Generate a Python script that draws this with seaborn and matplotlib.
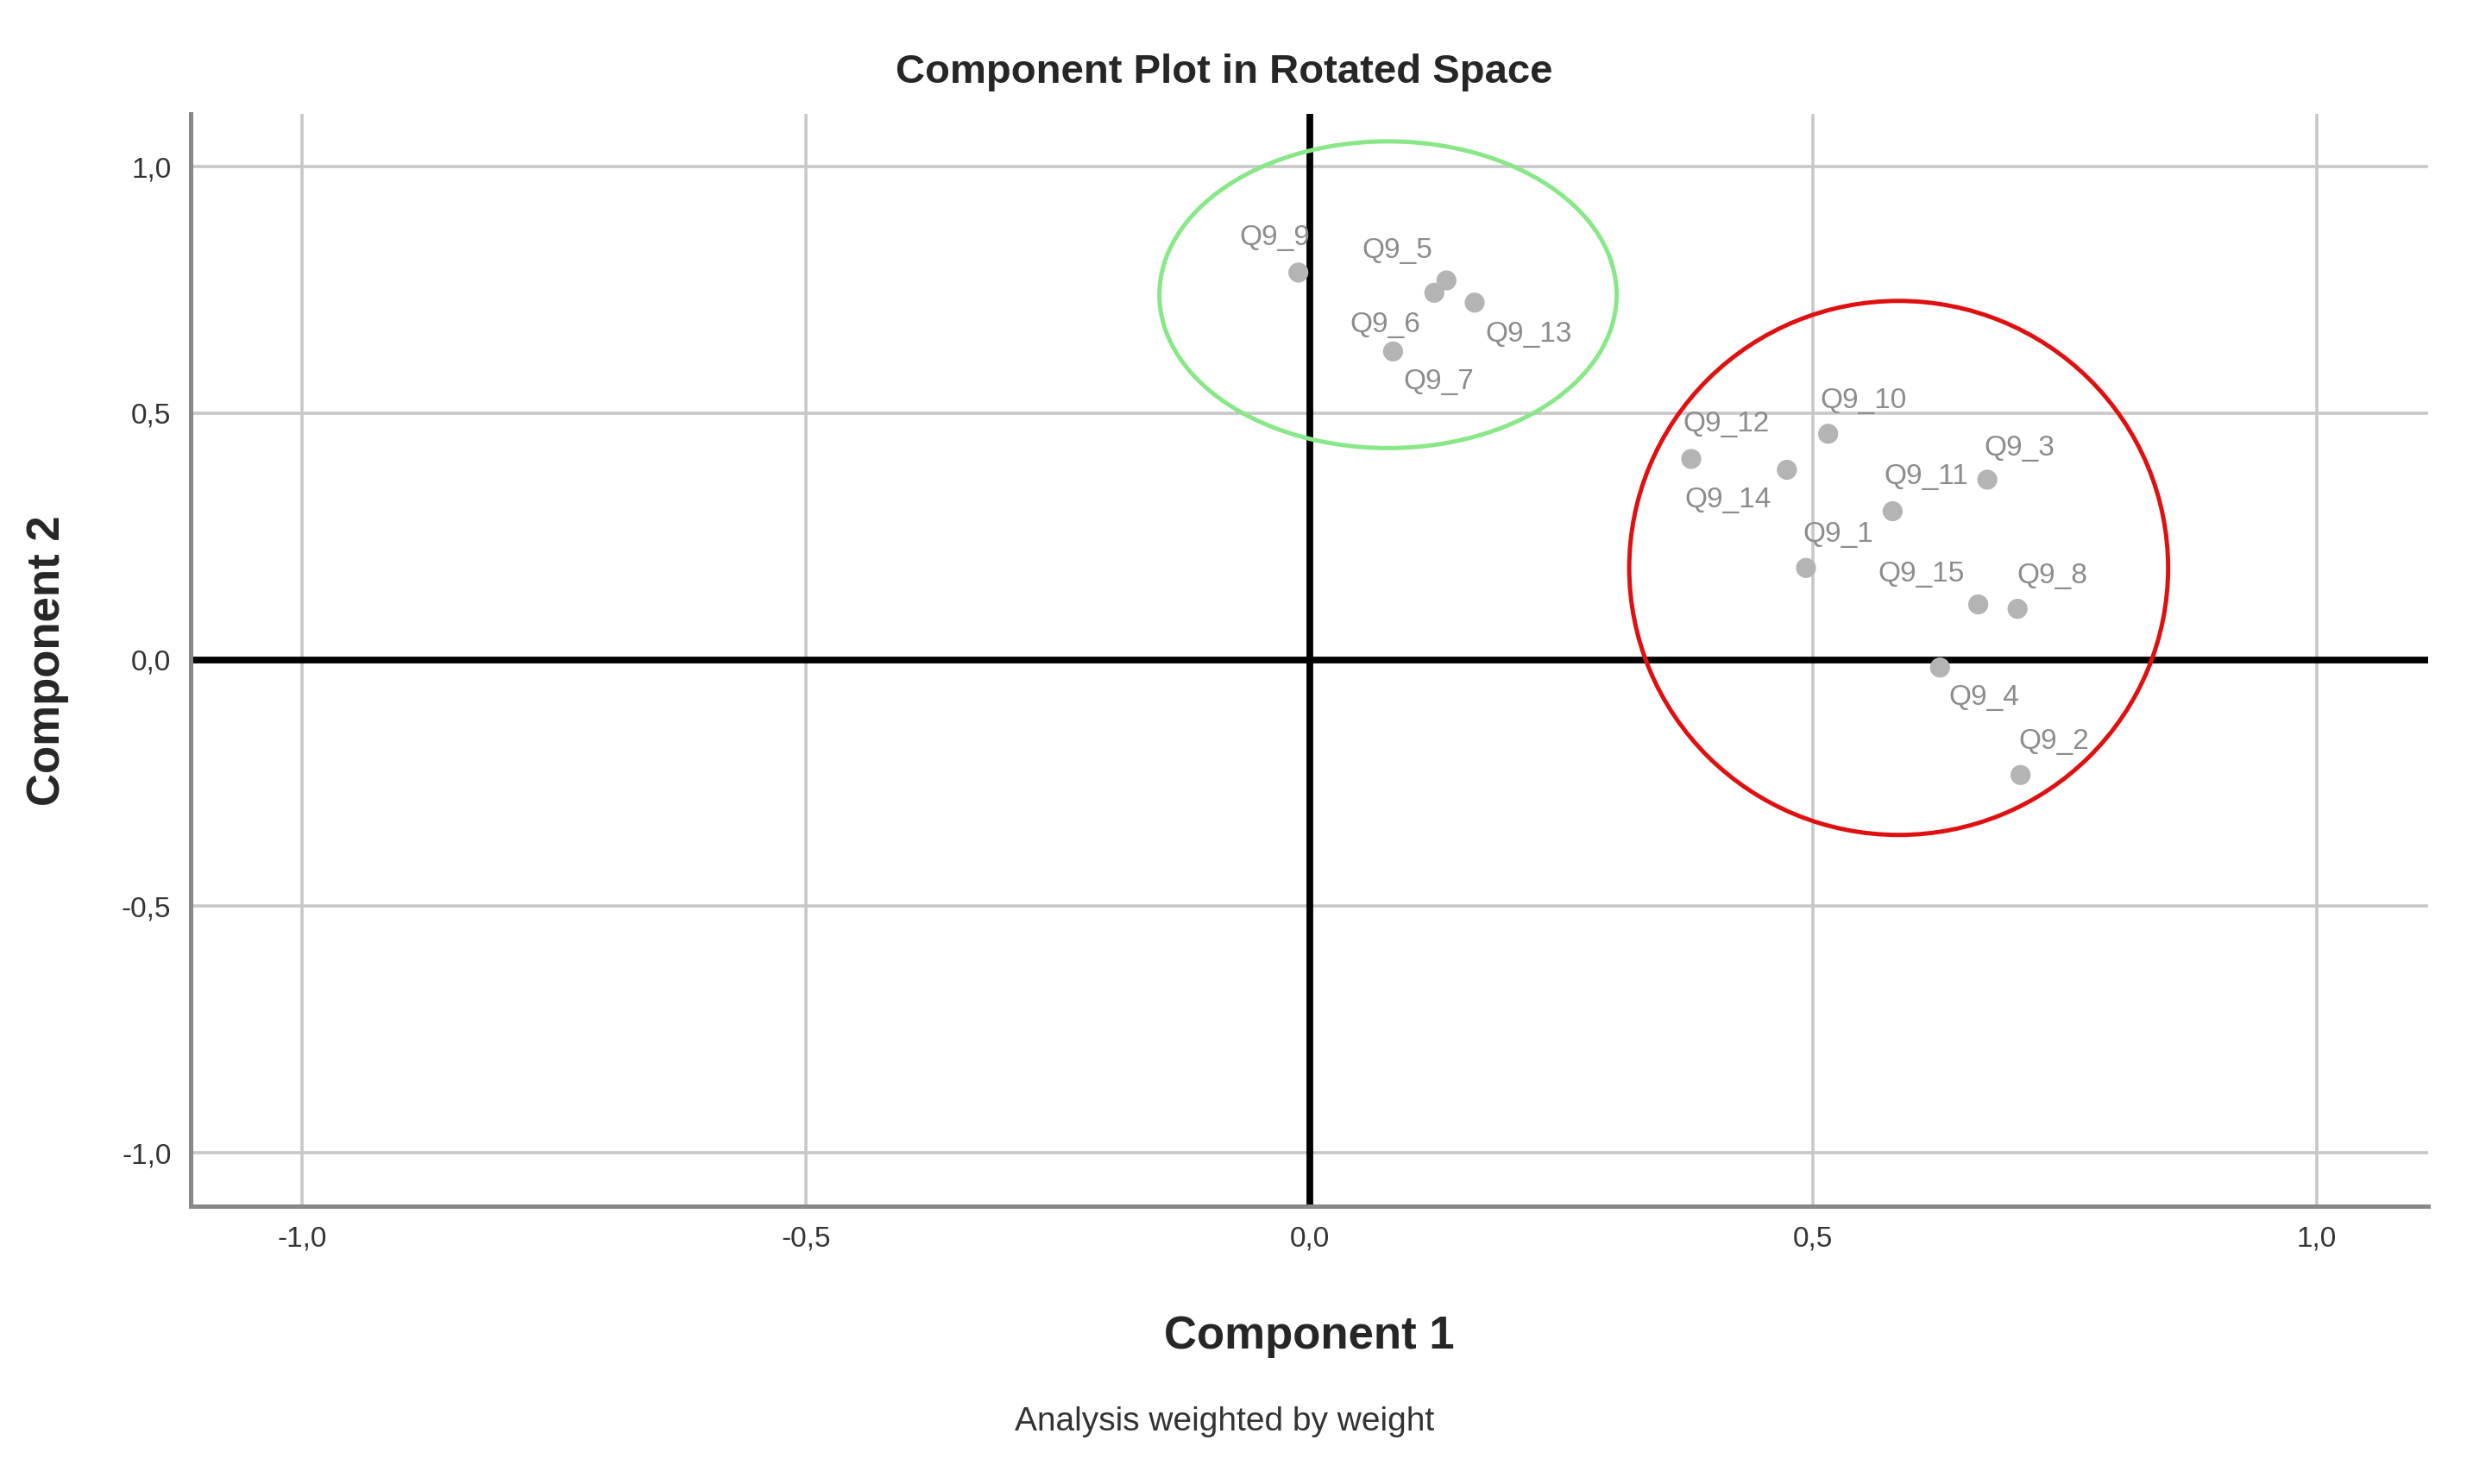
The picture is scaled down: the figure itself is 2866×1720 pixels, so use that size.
import matplotlib
matplotlib.use("Agg")
import matplotlib.pyplot as plt
import seaborn as sns
import pandas as pd
from matplotlib.patches import Ellipse

labels = ["Q9_9","Q9_5","Q9_6","Q9_13","Q9_7","Q9_12","Q9_14","Q9_10","Q9_3","Q9_11","Q9_1","Q9_15","Q9_8","Q9_4","Q9_2"]
comp1 = [-0.011,0.136,0.124,0.164,0.083,0.379,0.474,0.515,0.673,0.579,0.493,0.664,0.703,0.626,0.706]
comp2 = [0.785,0.769,0.744,0.724,0.625,0.407,0.385,0.458,0.365,0.301,0.186,0.112,0.103,-0.016,-0.234]
# label offsets (display px, y up)
off = {"Q9_9":(-15,22),"Q9_5":(-31,19),"Q9_6":(-31,-20),"Q9_13":(34,-20),"Q9_7":(29,-19),
       "Q9_12":(22,22),"Q9_14":(-37,-19),"Q9_10":(22,21),"Q9_3":(20,20),"Q9_11":(21,22),
       "Q9_1":(20,21),"Q9_15":(-36,19),"Q9_8":(22,21),"Q9_4":(28,-19),"Q9_2":(21,21)}
ticks = [-1.0,-0.5,0.0,0.5,1.0]
tick_labels = ["-1,0","-0,5","0,0","0,5","1,0"]

df = pd.DataFrame({"c1":comp1,"c2":comp2,"lab":labels})
sns.set_style("white")
plt.rcParams['font.family'] = ['Liberation Sans','DejaVu Sans']
fig = plt.figure(figsize=(14.33,8.6), dpi=200)
ax = fig.add_axes([0.077,0.187,0.905,0.736])
ax.set_xlim(-1.111,1.111); ax.set_ylim(-1.109,1.106)
ax.set_xticks(ticks); ax.set_xticklabels(tick_labels, fontsize=12)
ax.set_yticks(ticks); ax.set_yticklabels(tick_labels, fontsize=12)
ax.grid(True, color="#c8c8c8", lw=1.3)
ax.set_axisbelow(True)
for s in ["top","right"]: ax.spines[s].set_visible(False)
for s in ["left","bottom"]:
    ax.spines[s].set_color("#888888"); ax.spines[s].set_linewidth(1.8)
ax.tick_params(length=0, pad=8, colors="#333333")
ax.axhline(0, color="black", lw=2.8, zorder=2)
ax.axvline(0, color="black", lw=2.8, zorder=2)
sns.scatterplot(data=df, x="c1", y="c2", ax=ax, color="#b4b4b4", s=70, edgecolor="none", zorder=3)
k = 1.837
for l,x,y in zip(labels,comp1,comp2):
    dx,dy = off[l]
    ax.annotate(l,(x,y),xytext=(dx*k,dy*k),textcoords="offset pixels",ha="center",va="center",
                fontsize=12,color="#8c8c8c",zorder=4)
ax.add_patch(Ellipse((0.078,0.740),0.454,0.622,fill=False,ec="#88e888",lw=1.8,zorder=4))
ax.add_patch(Ellipse((0.585,0.186),0.535,1.083,fill=False,ec="#e01010",lw=1.8,zorder=4))
ax.set_xlabel("Component 1", fontsize=19, fontweight="bold", labelpad=26)
ax.set_ylabel("Component 2", fontsize=19, fontweight="bold", labelpad=22)
fig.text(0.495,0.951,"Component Plot in Rotated Space",ha="center",va="center",fontsize=17,fontweight="bold")
fig.text(0.495,0.042,"Analysis weighted by weight",ha="center",va="center",fontsize=14,color="#333333")
fig.savefig("out.png", dpi=200)
